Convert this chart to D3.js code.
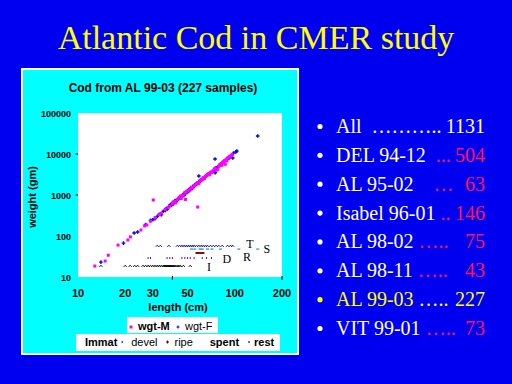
<!DOCTYPE html>
<html>
<head>
<meta charset="utf-8">
<script src="https://cdn.jsdelivr.net/npm/d3@7"></script>
<style>
  body { margin: 0; background: #0000f0; }
  svg { display: block; }
</style>
</head>
<body>
<svg id="slide" width="512" height="384"></svg>
<script>
// Weight vs length, males (wgt-M) and females (wgt-F), [length cm, weight gm]
var wgtM = [
    [12.8, 18.5], [14.9, 24.5], [15.6, 34], [18, 60], [20.8, 80], [21.6, 95], [25.2, 140], [26.6, 176],
    [27.5, 185], [29, 230], [30.2, 755], [31, 280], [33, 330], [34, 360], [36, 440], [37.5, 500],
    [38.5, 540], [40, 600], [40.5, 680], [41.5, 700], [42, 640], [43, 780], [44, 850], [45, 940],
    [45.5, 820], [46, 960], [47, 1000], [48, 1150], [48.5, 780], [49, 1180], [50, 1260], [51, 1320],
    [52, 1400], [53, 1550], [54, 1480], [55, 1700], [56, 1750], [57, 1880], [58, 509], [58.5, 2000],
    [59, 1900], [60, 2250], [61, 2300], [62, 2400], [63, 2650], [64, 2500], [65, 2850], [66, 3000],
    [67, 3150], [68, 3300], [69, 3100], [70, 3600], [71, 3500], [72, 3800], [74, 4300], [75, 4500],
    [76, 4000], [78, 4200], [79, 5000], [80, 5400], [82, 5900], [83, 5300], [84, 6400], [85, 6200],
    [86, 6900], [87, 5600], [88, 7400], [89, 6800], [90, 7900], [92, 8400], [93, 8800], [95, 9200], [96, 9700]
];
var wgtF = [
    [14, 23], [19.5, 67], [22.8, 118], [24, 125], [27, 190], [29, 240], [30, 250], [31, 265],
    [32, 300], [33, 340], [34, 330], [35, 400], [36, 420], [36.5, 470], [37, 450], [38, 520],
    [38.5, 560], [39, 580], [39.5, 560], [40, 640], [40.5, 610], [41, 660], [41.5, 720], [42, 700],
    [42.5, 760], [43, 740], [43.5, 800], [44, 820], [44.5, 880], [45, 900], [45.5, 870], [46, 930],
    [46.5, 1000], [47, 1040], [47.5, 980], [48, 1100], [48.5, 1150], [49, 1200], [49.5, 1130], [50, 1250],
    [50.5, 1300], [51, 1350], [51.5, 1280], [52, 1420], [52.5, 1460], [53, 1500], [53.5, 1450], [54, 1600],
    [55, 1650], [55.5, 1750], [56, 1800], [57, 1850], [57.5, 1950], [58, 1900], [59, 2100], [59, 2900],
    [60, 2150], [60.5, 2250], [61, 2350], [62, 2450], [63, 2500], [64, 2700], [65, 2800], [66, 2950],
    [67, 3100], [68, 3250], [69, 3400], [70, 3500], [71, 3700], [72, 3650], [73, 3950], [74.8, 7550],
    [75, 3500], [75, 4400], [76, 4600], [77, 4550], [78, 4900], [80, 5300], [81, 5600], [82, 5500],
    [84, 6300], [85, 6500], [86, 6600], [88, 7300], [90, 7600], [91, 8200], [92, 8000], [94, 9100],
    [96, 9500], [97, 8000], [98, 10500], [101.5, 11200], [103, 11800], [140, 27500]
];

// Maturity stages, plotted as rows of lengths at a fixed weight level
var stageNames = ["Immat", "devel", "ripe", "spent", "rest"];
var stageLevel = [18.5, 29, 38.5, 48, 57];
var stageLengths = [
    [14, 20, 21.5, 23, 24, 26, 27, 28, 29, 30, 31, 32, 33, 34, 35, 35.5, 36, 36.5, 37, 37.5, 38, 38.5,
     39, 39.5, 40, 40.5, 41, 42, 43, 44, 45, 47, 52],
    [28, 29, 37, 38.5, 40, 46, 48, 50, 52, 55, 62, 66, 71],
    [57, 58, 59, 60, 61, 62, 63],
    [53, 55.6, 60, 62, 67, 71.5, 81, 106, 140],
    [32, 33.5, 38, 43, 44.5, 46, 47.5, 49, 50.5, 52, 53.5, 55, 57, 59, 61, 63, 65, 67, 70, 73, 76, 79,
     83, 90, 94, 97]
];
// Letter tags next to the stage rows: [letter, length, weight]
var stageTags = [["T", 125, 64], ["R", 119.6, 30.8], ["S", 160, 48], ["D", 89, 27.5], ["I", 68.5, 17.5]];

var xTicks = [10, 20, 30, 50, 100, 200];
var yTicks = [10, 100, 1000, 10000, 100000];

// Cruise list on the right
var cruises = ["All", "DEL 94-12", "AL 95-02", "Isabel 96-01", "AL 98-02", "AL 98-11", "AL 99-03", "VIT 99-01"];
var cruiseDots = ["  \u2026\u2026\u2026..", "  ...", "    \u2026", " ..", " \u2026..", " \u2026..", " \u2026..", " \u2026.."];
var cruiseCounts = ["1131", "504", "63", "146", "75", "43", "227", "73"];

var red = "#ff1450";
var stageColor = ["#000000", "#800080", "#800000", "#008080", "#0000ff"];
var stageMark = [
    "M-1.5,0.8L0,-0.8L1.5,0.8",
    "M0,-1V1",
    "M-1.5,0H1.5M0,-1V1",
    "M-1.5,0H1.5",
    "M-1.5,0.8L0,-0.8L1.5,0.8"
];

var svg = d3.select("#slide");

// Slide background and title
svg.append("rect").attr("width", 512).attr("height", 384).attr("fill", "#0000f0");
svg.append("text")
    .attr("x", 256).attr("y", 49)
    .attr("text-anchor", "middle")
    .style("font-family", "'Liberation Serif', 'Times New Roman', serif")
    .style("font-size", "34px")
    .attr("fill", "#ffff00")
    .text("Atlantic Cod in CMER study");

// Chart panel
svg.append("rect")
    .attr("x", 22).attr("y", 69).attr("width", 276).attr("height", 285)
    .attr("fill", "#00ffff").attr("stroke", "#ffffff").attr("stroke-width", 2);

var sans = "'Liberation Sans', Arial, sans-serif";

svg.append("text")
    .attr("x", 163).attr("y", 92)
    .attr("text-anchor", "middle")
    .style("font-family", sans).style("font-size", "12px").style("font-weight", "bold")
    .text("Cod from AL 99-03 (227 samples)");

var plot = {left: 78, top: 113, right: 282, bottom: 277};

var x = d3.scaleLog().domain([10, 200]).range([plot.left, plot.right]);
var y = d3.scaleLog().domain([10, 100000]).range([plot.bottom, plot.top]);

svg.append("rect")
    .attr("x", plot.left).attr("y", plot.top)
    .attr("width", plot.right - plot.left).attr("height", plot.bottom - plot.top)
    .attr("fill", "#ffffff");

// Tick labels
svg.append("g").selectAll("text")
    .data(yTicks)
    .enter().append("text")
    .attr("x", 71).attr("y", function (d) { return y(d) + 3.5; })
    .attr("text-anchor", "end")
    .style("font-family", sans).style("font-size", "9px").style("font-weight", "bold")
    .text(function (d) { return d; });

svg.append("g").selectAll("text")
    .data(xTicks)
    .enter().append("text")
    .attr("x", function (d) { return x(d); }).attr("y", 297)
    .attr("text-anchor", "middle")
    .style("font-family", sans).style("font-size", "11px").style("font-weight", "bold")
    .text(function (d) { return d; });

// The few tick marks that show
svg.append("g").selectAll("line")
    .data([1000, 10000])
    .enter().append("line")
    .attr("x1", plot.left - 2.5).attr("x2", plot.left)
    .attr("y1", function (d) { return y(d); }).attr("y2", function (d) { return y(d); })
    .attr("stroke", "#000");
svg.append("g").selectAll("line")
    .data([40, 200])
    .enter().append("line")
    .attr("x1", function (d) { return x(d); }).attr("x2", function (d) { return x(d); })
    .attr("y1", plot.bottom - 1).attr("y2", plot.bottom + 3)
    .attr("stroke", "#000");

// Axis titles
svg.append("text")
    .attr("x", 178).attr("y", 311)
    .attr("text-anchor", "middle")
    .style("font-family", sans).style("font-size", "11px").style("font-weight", "bold")
    .text("length (cm)");
svg.append("text")
    .attr("transform", "translate(36,197) rotate(-90)")
    .attr("text-anchor", "middle")
    .style("font-family", sans).style("font-size", "11px").style("font-weight", "bold")
    .text("weight (gm)");

// Stage rows
stageLengths.forEach(function (lens, i) {
    svg.append("g").selectAll("path")
        .data(lens)
        .enter().append("path")
        .attr("transform", function (d) {
            return "translate(" + x(d) + "," + y(stageLevel[i]) + ")";
        })
        .attr("d", stageMark[i])
        .attr("fill", "none")
        .attr("stroke", stageColor[i])
        .attr("stroke-width", 1);
});

svg.append("g").selectAll("text")
    .data(stageTags)
    .enter().append("text")
    .attr("x", function (d) { return x(d[1]); })
    .attr("y", function (d) { return y(d[2]) + 4; })
    .attr("text-anchor", "middle")
    .style("font-family", "'Liberation Serif', serif").style("font-size", "12px")
    .text(function (d) { return d[0]; });

// Weight points: females first, males on top
svg.append("g").selectAll("path")
    .data(wgtF)
    .enter().append("path")
    .attr("transform", function (d) { return "translate(" + x(d[0]) + "," + y(d[1]) + ")"; })
    .attr("d", "M-1.8,0H1.8M0,-1.8V1.8")
    .attr("stroke", "#0000ff").attr("stroke-width", 1.4);

svg.append("g").selectAll("rect")
    .data(wgtM)
    .enter().append("rect")
    .attr("x", function (d) { return x(d[0]) - 1.5; })
    .attr("y", function (d) { return y(d[1]) - 1.5; })
    .attr("width", 3).attr("height", 3)
    .attr("fill", "#ff00ff");

// Legends
svg.append("rect").attr("x", 127).attr("y", 317).attr("width", 91).attr("height", 16).attr("fill", "#fff");
svg.append("rect").attr("x", 129.5).attr("y", 325.5).attr("width", 3).attr("height", 3).attr("fill", "#ff00ff");
svg.append("text").attr("x", 138).attr("y", 330)
    .style("font-family", sans).style("font-size", "11px").style("font-weight", "bold").text("wgt-M");
svg.append("path").attr("transform", "translate(178,327)").attr("d", "M-1.5,0H1.5M0,-1.5V1.5")
    .attr("stroke", "#0000ff").attr("stroke-width", 1);
svg.append("text").attr("x", 185).attr("y", 330)
    .style("font-family", sans).style("font-size", "11px").text("wgt-F");

svg.append("rect").attr("x", 76).attr("y", 334).attr("width", 204).attr("height", 17).attr("fill", "#fff");
var stageLegendX = d3.scalePoint().domain(stageNames).range([85, 254]);
var legendBold = [true, false, false, true, true];
svg.append("g").selectAll("text")
    .data(stageNames)
    .enter().append("text")
    .attr("x", function (d) { return stageLegendX(d) + (d === "devel" ? 4 : d === "ripe" ? 5 : d === "spent" ? -2 : 0); })
    .attr("y", 346)
    .style("font-family", sans).style("font-size", "11px")
    .style("font-weight", function (d, i) { return legendBold[i] ? "bold" : "normal"; })
    .text(function (d) { return d; });
[1, 2, 4].forEach(function (i) {
    svg.append("path")
        .attr("transform", "translate(" + (stageLegendX(stageNames[i]) - 5 + (i === 2 ? 3 : 0)) + ",342)")
        .attr("d", i === 2 ? "M-1.5,0H1.5M0,-1.5V1.5" : "M0,-1V1")
        .attr("stroke", stageColor[i]).attr("stroke-width", 1.2);
});

// Cruise list
var rowY = d3.scalePoint().domain(cruises).range([133, 335]);
var serif = "'Liberation Serif', 'Times New Roman', serif";
var rows = svg.append("g").selectAll("g")
    .data(cruises)
    .enter().append("g");

rows.append("circle")
    .attr("cx", 320).attr("cy", function (d) { return rowY(d) - 6.5; })
    .attr("r", 2.6)
    .attr("fill", function (d) { return d === "AL 99-03" ? "#ffff00" : "#ffffff"; });

var lines = rows.append("text")
    .attr("x", 336).attr("y", function (d) { return rowY(d); })
    .attr("xml:space", "preserve")
    .style("font-family", serif).style("font-size", "20px");
lines.append("tspan")
    .attr("fill", function (d) { return d === "AL 99-03" ? "#ffff00" : "#ffffff"; })
    .text(function (d) { return d; });
lines.append("tspan")
    .attr("fill", function (d, i) { return d === "AL 99-03" ? "#ffff00" : i === 0 ? "#ffffff" : red; })
    .text(function (d, i) { return cruiseDots[i]; });

rows.append("text")
    .attr("x", 485).attr("y", function (d) { return rowY(d); })
    .attr("text-anchor", "end")
    .style("font-family", serif).style("font-size", "20px")
    .attr("fill", function (d, i) { return d === "AL 99-03" ? "#ffff00" : i === 0 ? "#ffffff" : red; })
    .text(function (d, i) { return cruiseCounts[i]; });
</script>
</body>
</html>
